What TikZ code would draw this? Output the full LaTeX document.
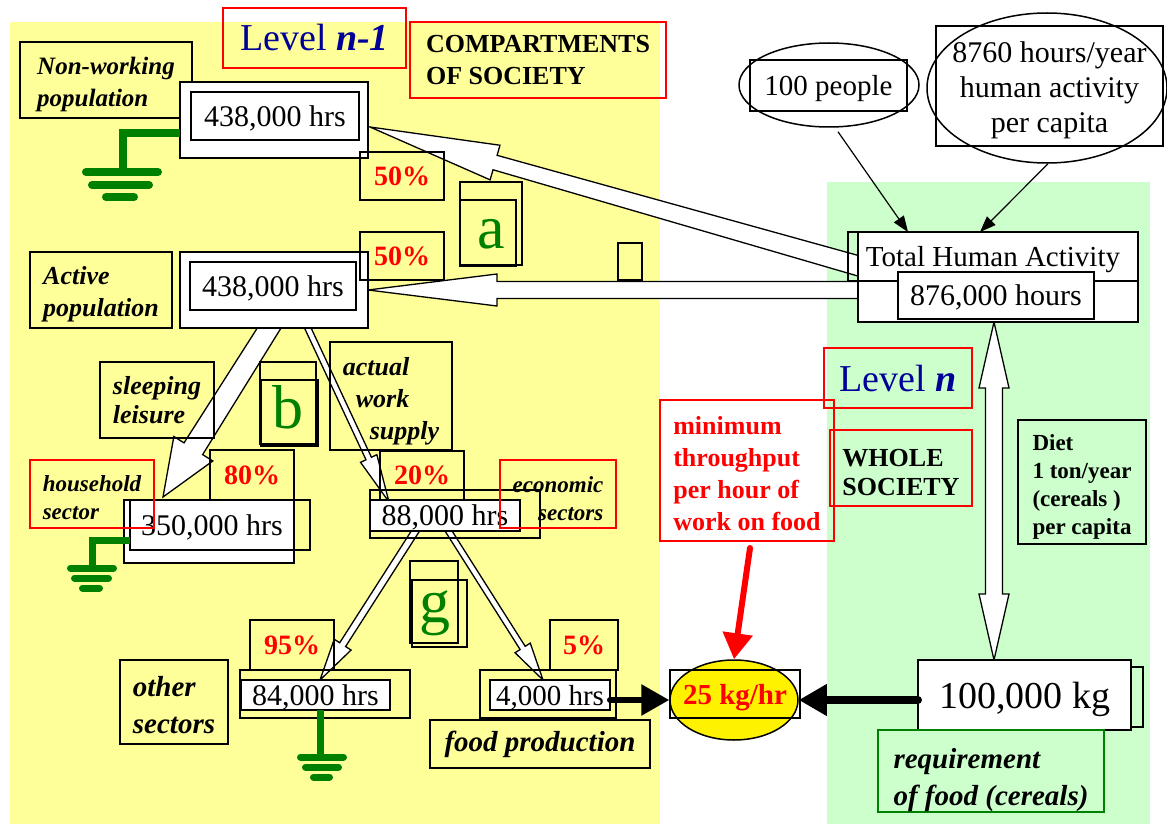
\documentclass[tikz,border=0pt]{standalone}
\usepackage{fontspec}
\setmainfont{Liberation Serif}
\usetikzlibrary{arrows.meta,calc,shapes.geometric}

\definecolor{paleyellow}{RGB}{255,255,153}
\definecolor{palegreen}{RGB}{204,255,204}
\definecolor{earthgreen}{RGB}{0,128,0}
\definecolor{levelblue}{RGB}{0,0,153}

\pgfdeclarelayer{bg}
\pgfdeclarelayer{flow}
\pgfsetlayers{bg,flow,main}

\newcommand\fsize[2]{\fontsize{#1}{#2}\selectfont}

% hollow arrow: from, to, tail half width, neck half width, head length, head half width
\newcommand\blockarrow[6]{%
  \path ($(#2)!#5!(#1)$) coordinate (ba-neck);
  \draw[arrowbody] ($(#1)!#3!90:(#2)$) -- ($(ba-neck)!#4!-90:(#1)$)
    -- ($(ba-neck)!#6!-90:(#1)$) -- (#2) -- ($(ba-neck)!#6!90:(#1)$)
    -- ($(ba-neck)!#4!90:(#1)$) -- ($(#1)!#3!-90:(#2)$) -- cycle;
}

% hollow arrow with a head at both ends: end, end, half width, head length, head half width
\newcommand\twinarrow[5]{%
  \path ($(#1)!#4!(#2)$) coordinate (ta-a) ($(#2)!#4!(#1)$) coordinate (ta-b);
  \draw[arrowbody] (#1) -- ($(ta-a)!#5!90:(#2)$) -- ($(ta-a)!#3!90:(#2)$)
    -- ($(ta-b)!#3!-90:(#1)$) -- ($(ta-b)!#5!-90:(#1)$) -- (#2)
    -- ($(ta-b)!#5!90:(#1)$) -- ($(ta-b)!#3!90:(#1)$)
    -- ($(ta-a)!#3!-90:(#2)$) -- ($(ta-a)!#5!-90:(#2)$) -- cycle;
}

\begin{document}
\begin{tikzpicture}[
        x=1pt, y=-1pt,
        plainbox/.style={draw, line width=1.5pt, inner sep=0pt, outer sep=0pt},
        wh/.style 2 args={minimum width=#1pt, minimum height=#2pt},
        hrsbox/.style={plainbox, fill=white, text depth=0pt, font=\fsize{30}{36}},
        pctbox/.style={plainbox, text=red, font=\bfseries\fsize{28}{34}},
        tagbox/.style 2 args={plainbox, align=left, font=\bfseries\itshape\fsize{#1}{#2}},
        redbox/.style={plainbox, draw=red, line width=1.3pt},
        letter/.style={text=earthgreen, font=\fsize{62}{62}, inner sep=0pt, anchor=base},
        earth/.style={draw=earthgreen, line width=7pt, line join=miter},
        arrowbody/.style={draw, fill=white, line width=1.3pt, line join=miter},
        fatarrow/.style={line width=6pt, line cap=round, -{Triangle[length=28pt,width=30pt]}},
        thinarrow/.style={line width=1.2pt, -{Triangle[length=16pt,width=12pt]}},
    ]

    \useasboundingbox (0,0) rectangle (1167,824);
    \begin{pgfonlayer}{bg}
        \fill[white] (0,0) rectangle (1167,824);
        \fill[paleyellow] (10,22) rectangle (660,824);
        \fill[palegreen] (827,182) rectangle (1150,824);
    \end{pgfonlayer}

    % level n-1
    \node[redbox, wh={183}{60}, text=levelblue, font=\fsize{38}{38}] (levelup) at (314.5,38) {Level \textbf{\textit{n-1}}};
    \node[redbox, wh={256}{76}, align=left, font=\bfseries\fsize{26}{32}] (compart) at (538,60) {COMPARTMENTS\\OF SOCIETY};

    \node[tagbox={25}{32}, wh={172}{76}, text height=59pt] (nwtag) at (106,80) {Non-working\\population};
    \node[plainbox, fill=white, wh={188}{76}] (nwout) at (274,120) {};
    \node[hrsbox, wh={168}{48}] (nwhrs) at (275,116) {438,000 hrs};

    \node[tagbox={26}{32}, wh={142}{76}, text height=58pt] (acttag) at (101,290) {Active\\population};
    \node[plainbox, fill=white, wh={188}{76}] (actout) at (274,290) {};
    \node[hrsbox, wh={166}{48}] (acthrs) at (273,286) {438,000 hrs};

    \node[pctbox, wh={84}{48}] (nwpct) at (402,176) {50\%};
    \node[pctbox, wh={84}{48}] (actpct) at (402,256) {50\%};

    \node[plainbox, wh={62}{83}] (boxa) at (491,223.5) {};
    \node[plainbox, wh={56}{66}] at (488,233) {};
    \node[letter] (la) at (491,248) {a};
    \node[plainbox, wh={24}{37}] (stub) at (630,261.5) {};

    \node[tagbox={26}{29}, wh={114}{76}] (sleeptag) at (157,400) {sleeping\\leisure};
    \node[plainbox, wh={56}{82}] (boxb) at (288,403) {};
    \node[plainbox, wh={57}{66}] at (289.5,413) {};
    \node[letter] (lb) at (288,428) {b};
    \node[tagbox={26}{32}, wh={122}{108}, text height=92pt] (worktag) at (391,396)
        {actual\\\hspace*{13pt}work\\\hspace*{27pt}supply};

    % household sector
    \node[plainbox, fill=white, wh={170}{63}] (hhout) at (209,531.5) {};
    \node[plainbox, wh={180}{50}] (hhside) at (220,525) {};
    \node[hrsbox, wh={164}{50}] (hhhrs) at (212,525) {350,000 hrs};
    \node[pctbox, wh={84}{50}] (hhpct) at (252,475) {80\%};
    \node[redbox, wh={124}{68}, align=left, text height=52pt, font=\bfseries\itshape\fsize{23}{28}] (hhtag) at (92,494) {household\\sector};

    % economic sectors
    \node[plainbox, wh={170}{48}] (workout) at (455,514) {};
    \node[hrsbox, wh={150}{31}] (workhrs) at (445,515.5) {88,000 hrs};
    \node[pctbox, wh={84}{49}] (workpct) at (422,475.5) {20\%};
    \node[redbox, wh={116}{68}, align=right, text height=54pt, font=\bfseries\itshape\fsize{23}{28}] (econtag) at (558,494) {economic\\sectors};

    \node[plainbox, wh={48}{82}] (boxg) at (434,602) {};
    \node[plainbox, wh={55}{67}] at (439.5,613.5) {};
    \node[letter] (lg) at (435,622) {g};

    \node[plainbox, wh={170}{48}] (othout) at (325,694) {};
    \node[hrsbox, wh={149}{30}] (othhrs) at (315.5,695) {84,000 hrs};
    \node[pctbox, wh={84}{50}] (othpct) at (292,645) {95\%};
    \node[tagbox={29}{37}, wh={108}{84}, text height=63pt] (othtag) at (174,702) {other\\sectors};

    \node[plainbox, wh={136}{48}] (foodout) at (548,694) {};
    \node[hrsbox, wh={120}{30}, font=\fsize{29}{34}] (foodhrs) at (550,695) {4,000 hrs};
    \node[pctbox, wh={68}{50}] (foodpct) at (584,645) {5\%};
    \node[tagbox={29}{34}, wh={220}{48}] (foodtag) at (540,744) {food production};

    % throughput on food work
    \node[ellipse, draw, line width=1.5pt, fill=yellow, inner sep=0pt, wh={128}{80}] (rate) at (734,700) {};
    \node[plainbox, wh={130}{48}, text=red, text depth=0pt, font=\bfseries\fsize{29}{34}] (ratebox) at (735,694) {25 kg/hr};
    \node[redbox, wh={174}{141}, align=left, text=red, text height=120pt, font=\bfseries\fsize{26}{32}] (minbox) at (747,470.5)
        {minimum\\throughput\\per hour of\\work on food};

    % level n
    \node[ellipse, draw, line width=1.5pt, fill=white, inner sep=0pt, wh={180}{84}] (people) at (829,85) {};
    \node[plainbox, wh={157}{51}, text depth=0pt, font=\fsize{29}{34}] (peoplebox) at (828.5,85.5) {100 people};
    \node[plainbox, fill=white, wh={227}{120}, align=center, text height=100pt, font=\fsize{30}{35}] (percapbox) at (1049.5,86)
        {8760 hours/year\\human activity\\per capita};
    \node[ellipse, draw, line width=1.5pt, inner sep=0pt, wh={240}{150}] (percap) at (1047,88) {};

    \node[plainbox, fill=white, wh={280}{90}] (tha) at (998,277) {};
    \node[plainbox, wh={290}{49}, text depth=0pt, font=\fsize{29}{34}] (thatop) at (993,256.5) {Total Human Activity};
    \node[hrsbox, wh={196}{47}] (thahrs) at (996,295.5) {876,000 hours};

    \node[redbox, wh={148}{60}, text=levelblue, font=\fsize{38}{38}] (leveln) at (898,378) {Level \textbf{\textit{n}}};
    \node[redbox, wh={142}{76}, align=left, text height=56pt, font=\bfseries\fsize{26}{29}] (whole) at (901,468) {WHOLE\\SOCIETY};
    \node[plainbox, wh={128}{124}, align=left, text height=110pt, font=\bfseries\fsize{23}{28}] (diet) at (1082,482)
        {Diet\\1 ton/year\\(cereals )\\per capita};

    \node[plainbox, wh={225}{60}] (needside) at (1030.5,697) {};
    \node[hrsbox, wh={213}{70}, font=\fsize{38}{40}] (need) at (1024.5,695) {100,000 kg};
    \node[tagbox={29}{37}, draw=earthgreen, wh={226}{82}, text height=76pt] (reqtag) at (991,771) {requirement\\of food (cereals)};

    % hollow flows between compartments
    \begin{pgfonlayer}{flow}
        \coordinate (thaup) at ($(tha.west)+(8,-9)$);
        \coordinate (thalow) at ($(tha.west)+(8,13)$);
        \coordinate (nwin) at ($(nwout.east)+(2,7)$);
        \coordinate (sleepup) at ($(actout.south)+(-1,-6)$);
        \coordinate (hhin) at ($(hhout.north)+(-46,-3)$);
        \coordinate (workup) at ($(actout.south)+(31,-6)$);
        \coordinate (workin) at ($(workhrs.north west)+(19,2)$);
        \coordinate (othup) at ($(workhrs.south)+(-27,-4)$);
        \coordinate (othin) at ($(othhrs.north)+(4.5,0)$);
        \coordinate (foodup) at ($(workhrs.south)+(1,-4)$);
        \coordinate (foodin) at ($(foodhrs.north)+(-7,0)$);
        \coordinate (dtop) at ($(tha.south)+(-4,0)$);
        \coordinate (dbot) at (dtop |- need.north);

        \blockarrow{thaup}{nwin}{10pt}{7.5pt}{130pt}{18pt}
        \blockarrow{thalow}{actout.east}{8.5pt}{8.5pt}{129pt}{16pt}
        \blockarrow{sleepup}{hhin}{10pt}{11pt}{57pt}{23pt}
        \blockarrow{workup}{workin}{3pt}{3pt}{48pt}{9pt}
        \blockarrow{othup}{othin}{3.5pt}{3.5pt}{42pt}{10pt}
        \blockarrow{foodup}{foodin}{3pt}{3pt}{38pt}{9pt}
        \twinarrow{dtop}{dbot}{8.5pt}{66pt}{15pt}
    \end{pgfonlayer}

    % earth symbols
    \draw[earth, line width=8pt] ($(nwout.west)+(0,13)$) -| (122.5,172);
    \draw[earth, line width=8pt, line cap=round] (86,172) -- (158,172) (92,185) -- (149,185) (106,197) -- (134,197);
    \draw[earth] ($(hhhrs.west)+(0,15)$) -| (92,568);
    \draw[earth, line cap=round] (70.5,568) -- (113.5,568) (74.5,578) -- (108.5,578) (82.5,588) -- (99.5,588);
    \draw[earth] (othhrs.south -| othin) -- (320,757);
    \draw[earth, line cap=round] (300.5,757) -- (343.5,757) (305.5,767) -- (338.5,767) (313.5,777) -- (329.5,777);

    % solid arrows
    \draw[fatarrow] (foodhrs.east |- rate.west) -- (rate.west);
    \draw[fatarrow, line width=8pt] (need.west |- rate.east) -- (rate.east);
    \draw[fatarrow, red, -{Triangle[length=26pt,width=29pt]}] ($(minbox.south)+(3,7)$) -- (rate.north);
    \draw[thinarrow] ($(people.south)+(9,4)$) -- ($(tha.north west)+(50,0)$);
    \draw[thinarrow] ($(percap.south)+(1,0)$) -- ($(tha.north west)+(122,0)$);

\end{tikzpicture}
\end{document}
